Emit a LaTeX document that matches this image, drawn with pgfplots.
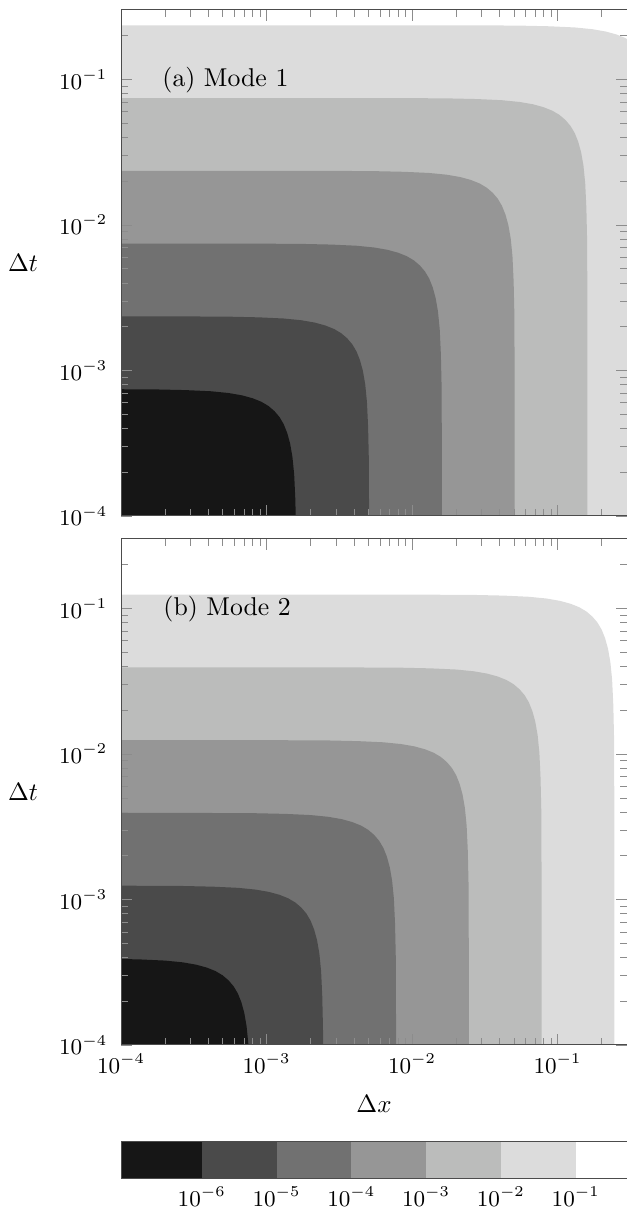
\documentclass[border=0pt]{standalone}
\usepackage{pgfplots}
\pgfplotsset{compat=1.18}
\definecolor{c1}{HTML}{161616}
\definecolor{c2}{HTML}{4A4A4A}
\definecolor{c3}{HTML}{717171}
\definecolor{c4}{HTML}{969696}
\definecolor{c5}{HTML}{BBBCBB}
\definecolor{c6}{HTML}{DCDCDC}
\begin{document}
\begin{tikzpicture}
\pgfplotsset{
  fieldaxis/.style={
    scale only axis, width=202.4pt, height=202.4pt, anchor=south west,
    xmin=-4, xmax=-0.52288, ymin=-4, ymax=-0.52288,
    xtick={-4,-3,-2,-1}, ytick={-4,-3,-2,-1},
    yticklabels={$10^{-4}$,$10^{-3}$,$10^{-2}$,$10^{-1}$},
    minor xtick={-3.69897,-3.52288,-3.39794,-3.30103,-3.22185,-3.15490,-3.09691,-3.04576,
                 -2.69897,-2.52288,-2.39794,-2.30103,-2.22185,-2.15490,-2.09691,-2.04576,
                 -1.69897,-1.52288,-1.39794,-1.30103,-1.22185,-1.15490,-1.09691,-1.04576,-0.69897},
    minor ytick={-3.69897,-3.52288,-3.39794,-3.30103,-3.22185,-3.15490,-3.09691,-3.04576,
                 -2.69897,-2.52288,-2.39794,-2.30103,-2.22185,-2.15490,-2.09691,-2.04576,
                 -1.69897,-1.52288,-1.39794,-1.30103,-1.22185,-1.15490,-1.09691,-1.04576,-0.69897},
    axis on top, axis line style={black!70},
    tick style={black!45},
    tick label style={font=\fontsize{9.2}{11}\selectfont},
    yticklabel style={xshift=-2pt},
    ylabel={$\Delta t$},
    ylabel style={rotate=-90, at={(axis description cs:-0.1937,0.5)}, anchor=center, font=\fontsize{10}{12}\selectfont},
  },
  region/.style={draw=none, fill=#1, forget plot},
}
% ---------------- top: Mode 1 ----------------
\begin{axis}[fieldaxis, at={(48.4pt,276.8pt)}, xticklabels={,,,}]
\addplot[region=c6] coordinates {(-5,-0.628)(-1.752,-0.628)(-1.276,-0.630)(-1.055,-0.635)(-0.882,-0.643)(-0.761,-0.655)(-0.669,-0.671)(-0.596,-0.691)(-0.536,-0.715)(-0.487,-0.744)(-0.446,-0.779)(-0.411,-0.820)(-0.382,-0.869)(-0.358,-0.929)(-0.338,-1.002)(-0.322,-1.094)(-0.310,-1.215)(-0.302,-1.388)(-0.297,-1.609)(-0.295,-2.085)(-0.295,-5)(-5,-5)} --cycle;
\addplot[region=c5] coordinates {(-5,-1.128)(-2.252,-1.128)(-1.776,-1.130)(-1.555,-1.135)(-1.382,-1.143)(-1.261,-1.155)(-1.169,-1.171)(-1.096,-1.191)(-1.036,-1.215)(-0.987,-1.244)(-0.946,-1.279)(-0.911,-1.320)(-0.882,-1.369)(-0.858,-1.429)(-0.838,-1.502)(-0.822,-1.594)(-0.810,-1.715)(-0.802,-1.888)(-0.797,-2.109)(-0.795,-2.585)(-0.795,-5)(-5,-5)} --cycle;
\addplot[region=c4] coordinates {(-5,-1.628)(-2.752,-1.628)(-2.276,-1.630)(-2.055,-1.635)(-1.882,-1.643)(-1.761,-1.655)(-1.669,-1.671)(-1.596,-1.691)(-1.536,-1.715)(-1.487,-1.744)(-1.446,-1.779)(-1.411,-1.820)(-1.382,-1.869)(-1.358,-1.929)(-1.338,-2.002)(-1.322,-2.094)(-1.310,-2.215)(-1.302,-2.388)(-1.297,-2.609)(-1.295,-3.085)(-1.295,-5)(-5,-5)} --cycle;
\addplot[region=c3] coordinates {(-5,-2.128)(-3.252,-2.128)(-2.776,-2.130)(-2.555,-2.135)(-2.382,-2.143)(-2.261,-2.155)(-2.169,-2.171)(-2.096,-2.191)(-2.036,-2.215)(-1.987,-2.244)(-1.946,-2.279)(-1.911,-2.320)(-1.882,-2.369)(-1.858,-2.429)(-1.838,-2.502)(-1.822,-2.594)(-1.810,-2.715)(-1.802,-2.888)(-1.797,-3.109)(-1.795,-3.585)(-1.795,-5)(-5,-5)} --cycle;
\addplot[region=c2] coordinates {(-5,-2.628)(-3.752,-2.628)(-3.276,-2.630)(-3.055,-2.635)(-2.882,-2.643)(-2.761,-2.655)(-2.669,-2.671)(-2.596,-2.691)(-2.536,-2.715)(-2.487,-2.744)(-2.446,-2.779)(-2.411,-2.820)(-2.382,-2.869)(-2.358,-2.929)(-2.338,-3.002)(-2.322,-3.094)(-2.310,-3.215)(-2.302,-3.388)(-2.297,-3.609)(-2.295,-4.085)(-2.295,-5)(-5,-5)} --cycle;
\addplot[region=c1] coordinates {(-5,-3.128)(-4.252,-3.128)(-3.776,-3.130)(-3.555,-3.135)(-3.382,-3.143)(-3.261,-3.155)(-3.169,-3.171)(-3.096,-3.191)(-3.036,-3.215)(-2.987,-3.244)(-2.946,-3.279)(-2.911,-3.320)(-2.882,-3.369)(-2.858,-3.429)(-2.838,-3.502)(-2.822,-3.594)(-2.810,-3.715)(-2.802,-3.888)(-2.797,-4.109)(-2.795,-4.585)(-2.795,-5)(-5,-5)} --cycle;
\node[anchor=west, inner sep=0pt, font=\fontsize{10.3}{12}\selectfont] at (axis description cs:0.081,0.862) {(a) Mode 1};
\end{axis}
% ---------------- bottom: Mode 2 ----------------
\begin{axis}[fieldaxis, at={(48.4pt,65.2pt)},
  xticklabels={$10^{-4}$,$10^{-3}$,$10^{-2}$,$10^{-1}$},
  xlabel={$\Delta x$},
  xlabel style={at={(axis description cs:0.5,-0.1166)}, anchor=center, font=\fontsize{10}{12}\selectfont}]
\addplot[region=c6] coordinates {(-5,-0.905)(-2.067,-0.905)(-1.591,-0.907)(-1.370,-0.912)(-1.197,-0.920)(-1.076,-0.932)(-0.984,-0.948)(-0.911,-0.968)(-0.851,-0.992)(-0.802,-1.021)(-0.761,-1.056)(-0.726,-1.097)(-0.697,-1.146)(-0.673,-1.206)(-0.653,-1.279)(-0.637,-1.371)(-0.625,-1.492)(-0.617,-1.665)(-0.612,-1.886)(-0.610,-2.362)(-0.610,-5)(-5,-5)} --cycle;
\addplot[region=c5] coordinates {(-5,-1.405)(-2.567,-1.405)(-2.091,-1.407)(-1.870,-1.412)(-1.697,-1.420)(-1.576,-1.432)(-1.484,-1.448)(-1.411,-1.468)(-1.351,-1.492)(-1.302,-1.521)(-1.261,-1.556)(-1.226,-1.597)(-1.197,-1.646)(-1.173,-1.706)(-1.153,-1.779)(-1.137,-1.871)(-1.125,-1.992)(-1.117,-2.165)(-1.112,-2.386)(-1.110,-2.862)(-1.110,-5)(-5,-5)} --cycle;
\addplot[region=c4] coordinates {(-5,-1.905)(-3.067,-1.905)(-2.591,-1.907)(-2.370,-1.912)(-2.197,-1.920)(-2.076,-1.932)(-1.984,-1.948)(-1.911,-1.968)(-1.851,-1.992)(-1.802,-2.021)(-1.761,-2.056)(-1.726,-2.097)(-1.697,-2.146)(-1.673,-2.206)(-1.653,-2.279)(-1.637,-2.371)(-1.625,-2.492)(-1.617,-2.665)(-1.612,-2.886)(-1.610,-3.362)(-1.610,-5)(-5,-5)} --cycle;
\addplot[region=c3] coordinates {(-5,-2.405)(-3.567,-2.405)(-3.091,-2.407)(-2.870,-2.412)(-2.697,-2.420)(-2.576,-2.432)(-2.484,-2.448)(-2.411,-2.468)(-2.351,-2.492)(-2.302,-2.521)(-2.261,-2.556)(-2.226,-2.597)(-2.197,-2.646)(-2.173,-2.706)(-2.153,-2.779)(-2.137,-2.871)(-2.125,-2.992)(-2.117,-3.165)(-2.112,-3.386)(-2.110,-3.862)(-2.110,-5)(-5,-5)} --cycle;
\addplot[region=c2] coordinates {(-5,-2.905)(-4.067,-2.905)(-3.591,-2.907)(-3.370,-2.912)(-3.197,-2.920)(-3.076,-2.932)(-2.984,-2.948)(-2.911,-2.968)(-2.851,-2.992)(-2.802,-3.021)(-2.761,-3.056)(-2.726,-3.097)(-2.697,-3.146)(-2.673,-3.206)(-2.653,-3.279)(-2.637,-3.371)(-2.625,-3.492)(-2.617,-3.665)(-2.612,-3.886)(-2.610,-4.362)(-2.610,-5)(-5,-5)} --cycle;
\addplot[region=c1] coordinates {(-5,-3.405)(-4.567,-3.405)(-4.091,-3.407)(-3.870,-3.412)(-3.697,-3.420)(-3.576,-3.432)(-3.484,-3.448)(-3.411,-3.468)(-3.351,-3.492)(-3.302,-3.521)(-3.261,-3.556)(-3.226,-3.597)(-3.197,-3.646)(-3.173,-3.706)(-3.153,-3.779)(-3.137,-3.871)(-3.125,-3.992)(-3.117,-4.165)(-3.112,-4.386)(-3.110,-4.862)(-3.110,-5)(-5,-5)} --cycle;
\node[anchor=west, inner sep=0pt, font=\fontsize{10.3}{12}\selectfont] at (axis description cs:0.083,0.861) {(b) Mode 2};
\end{axis}
% ---------------- colour bar ----------------
\begin{axis}[scale only axis, width=202.4pt, height=14.6pt, anchor=south west, at={(48.4pt,11.9pt)},
  xmin=-7.079, xmax=-0.314, ymin=0, ymax=1,
  xtick={-6,-5,-4,-3,-2,-1},
  xticklabels={$10^{-6}$,$10^{-5}$,$10^{-4}$,$10^{-3}$,$10^{-2}$,$10^{-1}$},
  ytick=\empty, major tick length=0pt,
  axis on top, axis line style={black!70},
  tick label style={font=\fontsize{9}{11}\selectfont}]
\addplot[region=c1] coordinates {(-7.079,0)(-6,0)(-6,1)(-7.079,1)} --cycle;
\addplot[region=c2] coordinates {(-6,0)(-5,0)(-5,1)(-6,1)} --cycle;
\addplot[region=c3] coordinates {(-5,0)(-4,0)(-4,1)(-5,1)} --cycle;
\addplot[region=c4] coordinates {(-4,0)(-3,0)(-3,1)(-4,1)} --cycle;
\addplot[region=c5] coordinates {(-3,0)(-2,0)(-2,1)(-3,1)} --cycle;
\addplot[region=c6] coordinates {(-2,0)(-1,0)(-1,1)(-2,1)} --cycle;
\end{axis}
\pgfresetboundingbox
\path[use as bounding box] (0pt,0pt) rectangle (250.8pt,483.2pt);
\end{tikzpicture}
\end{document}
